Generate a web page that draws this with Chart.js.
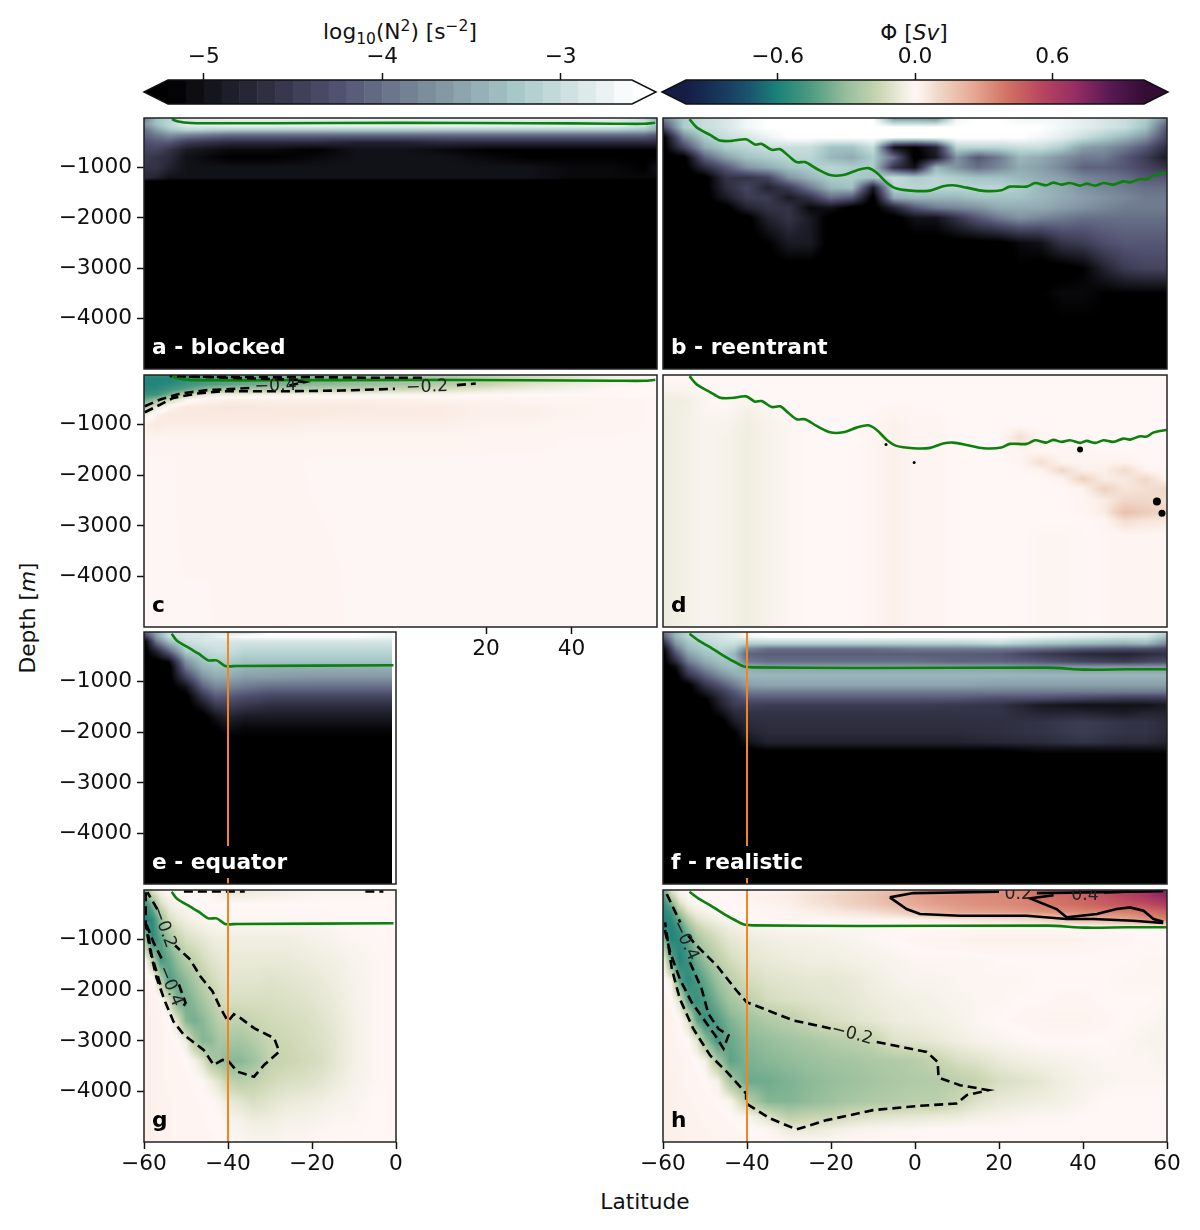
<!DOCTYPE html>
<html>
<head>
<meta charset="utf-8">
<title>Stratification and overturning</title>
<script src="https://cdn.jsdelivr.net/npm/chart.js@4"></script>
<style>
  html, body { margin: 0; background: #fff; }
  #page { position: relative; width: 1200px; height: 1230px; overflow: hidden; font-family: "DejaVu Sans", sans-serif; color: #111; }
  #page canvas { position: absolute; }
  .note { position: absolute; font-size: 21.7px; line-height: 24px; white-space: nowrap; transform: translate(-50%, -50%); }
  .note sub, .note sup { font-size: 15.5px; line-height: 0; }
</style>
</head>
<body>
<div id="page">
  <div class="note" style="left:400px;top:32px">log<sub>10</sub>(N<sup>2</sup>) [s<sup>−2</sup>]</div>
  <div class="note" style="left:914px;top:33px">Φ [<i>Sv</i>]</div>
  <div class="note" style="left:28px;top:618px;transform:translate(-50%,-50%) rotate(-90deg)">Depth [<i>m</i>]</div>
  <div class="note" style="left:645px;top:1202px">Latitude</div>
</div>
<script>
// Axis ticks
const depthTicks = [-1000, -2000, -3000, -4000];
const fullLatTicks = [-60, -40, -20, 0, 20, 40, 60];
const halfLatTicks = [-60, -40, -20, 0];
const cLatTicks = [20, 40];
const n2Ticks = [-5, -4, -3];
const phiTicks = [-0.6, 0, 0.6];

// Colorbar levels
const n2Levels = [-5.2, -5.1, -5.0, -4.9, -4.8, -4.7, -4.6, -4.5, -4.4, -4.3, -4.2, -4.1, -4.0, -3.9, -3.8, -3.7, -3.6, -3.5, -3.4, -3.3, -3.2, -3.1, -3.0, -2.9, -2.8, -2.7, -2.6];

// Pycnocline depth per configuration
const blockedLineLat = [-53.5, -52, -49, -45, -30, 0, 30, 50, 57, 59.6];
const blockedLineDepth = [-37, -85, -115, -120, -120, -112, -118, -128, -130, -110];
const reentrantLineLat = [-53.7, -52, -48.8, -46.4, -43.65, -40.2, -38.1, -36.5, -34.1, -32.1, -30.2, -28.2, -26.2, -23.4, -20.2, -17.1, -13.9, -11.1, -9.1, -6.7, -4.4, -0.4, 3.6, 6.7, 9.1, 12.3, 16.3, 20.6, 22.6, 26.6, 28.6, 31.3, 32.9, 34.9, 36.9, 39.3, 40.9, 42.9, 44.9, 47.2, 49.6, 51.2, 53.6, 55.2, 56.7, 58.3, 59.9];
const reentrantLineDepth = [-37, -201, -352, -464, -470, -438, -543, -530, -648, -635, -760, -891, -891, -1023, -1148, -1148, -1056, -1010, -1102, -1299, -1417, -1463, -1457, -1371, -1352, -1398, -1463, -1450, -1378, -1378, -1306, -1352, -1299, -1338, -1306, -1358, -1319, -1358, -1306, -1338, -1273, -1293, -1227, -1233, -1154, -1122, -1102];
const equatorLineLat = [-53.4, -52.2, -49, -47, -44.7, -42.7, -40.7, -37.9, -0.6];
const equatorLineDepth = [-50, -181, -346, -444, -576, -576, -687, -687, -674];
const realisticLineLat = [-53.7, -51.2, -48.8, -46.4, -44.4, -42.9, -40.9, -38.5, -13.1, 31.4, 40.9, 50.4, 59.9];
const realisticLineDepth = [-50, -201, -313, -444, -543, -609, -694, -714, -727, -720, -760, -753, -753];
const orangeLat = [-40, -40];
const orangeDepth = [0, -5000];

// Panel a, log10 N2
const aLats = [-60, -57, -54, -50, -40, -30, -20, -10, 0, 10, 20, 30, 40, 50, 57, 60];
const aDepths = [-30, -80, -130, -180, -250, -350, -500, -650, -800, -1000, -1200, -1290, -5000];
const aRows = [
  [-3.9, -3.3, -3.1, -2.8, -2.7, -2.7, -2.7, -2.7, -2.7, -2.7, -2.7, -2.7, -2.7, -2.7, -3.0, -3.5],
  [-3.8, -3.3, -3.1, -2.9, -2.9, -2.9, -2.9, -2.9, -2.9, -2.9, -2.9, -2.9, -2.9, -2.9, -3.0, -3.3],
  [-3.7, -3.3, -3.1, -2.8, -2.7, -2.7, -2.7, -2.7, -2.7, -2.7, -2.7, -2.7, -2.7, -2.7, -2.8, -3.2],
  [-3.8, -3.4, -3.1, -2.9, -2.8, -2.8, -2.8, -2.8, -2.8, -2.8, -2.8, -2.8, -2.8, -2.8, -3.0, -3.4],
  [-4.0, -3.6, -3.3, -3.1, -3.2, -3.2, -3.2, -3.2, -3.2, -3.2, -3.2, -3.2, -3.2, -3.2, -3.3, -3.5],
  [-4.1, -3.9, -3.7, -3.8, -4.0, -4.0, -4.0, -4.0, -4.0, -4.0, -4.0, -4.0, -4.0, -4.0, -4.0, -4.2],
  [-4.3, -4.2, -4.2, -4.5, -4.7, -4.7, -4.7, -4.8, -4.8, -4.7, -4.7, -4.7, -4.7, -4.7, -4.7, -4.7],
  [-4.4, -4.4, -4.6, -4.9, -5.1, -5.1, -5.2, -5.0, -5.0, -5.1, -5.2, -5.2, -5.2, -5.2, -5.2, -5.2],
  [-4.5, -4.6, -4.7, -5.0, -5.2, -5.2, -5.1, -5.0, -5.0, -5.0, -5.1, -5.2, -5.2, -5.2, -5.2, -5.2],
  [-4.6, -4.6, -4.8, -5.0, -5.0, -5.0, -5.0, -5.0, -5.0, -5.0, -5.0, -5.0, -5.1, -5.1, -5.2, -5.0],
  [-4.7, -4.8, -5.0, -5.0, -5.0, -5.0, -5.0, -5.0, -5.0, -5.0, -5.0, -5.0, -5.1, -5.1, -5.1, -5.1],
  [-5.3, -5.3, -5.3, -5.3, -5.3, -5.3, -5.3, -5.3, -5.3, -5.3, -5.3, -5.3, -5.3, -5.3, -5.3, -5.3],
  [-5.3, -5.3, -5.3, -5.3, -5.3, -5.3, -5.3, -5.3, -5.3, -5.3, -5.3, -5.3, -5.3, -5.3, -5.3, -5.3]
];

// Panel b, log10 N2
const bLats = [-60, -55, -50, -45, -40, -35, -30, -25, -20, -15, -10, -5, 0, 5, 10, 15, 20, 25, 30, 35, 40, 45, 50, 55, 60];
const bDepths = [-30, -200, -400, -600, -800, -1000, -1200, -1400, -1600, -1800, -2000, -2500, -3000, -3500, -4000, -5000];
const bRows = [
  [-3.9, -3.2, -3.0, -2.9, -2.7, -2.6, -2.6, -2.6, -2.6, -2.6, -2.6, -3.6, -3.6, -3.7, -2.7, -2.6, -2.6, -2.7, -2.7, -2.7, -2.8, -2.9, -3.0, -3.2, -3.8],
  [-4.4, -3.2, -3.0, -2.9, -2.7, -2.6, -2.6, -2.6, -2.6, -2.6, -2.6, -2.6, -2.6, -2.6, -2.6, -2.6, -2.6, -2.6, -2.6, -2.7, -2.8, -2.9, -3.0, -3.3, -4.2],
  [-5.3, -3.8, -3.2, -3.0, -2.9, -2.75, -2.6, -2.6, -2.6, -2.6, -2.6, -2.6, -2.6, -2.6, -2.6, -2.6, -2.6, -2.6, -2.7, -2.8, -3.0, -3.2, -3.4, -3.7, -4.4],
  [-5.3, -4.4, -3.5, -3.2, -3.1, -3.0, -3.0, -3.0, -3.3, -3.3, -3.0, -5.0, -5.2, -4.8, -3.1, -3.1, -3.1, -3.0, -3.0, -3.2, -3.6, -3.7, -3.9, -4.2, -4.7],
  [-5.3, -5.3, -4.1, -3.6, -3.3, -3.2, -3.1, -3.1, -3.4, -3.5, -3.2, -4.0, -5.3, -4.9, -3.7, -4.2, -3.9, -3.4, -3.5, -3.7, -3.9, -3.9, -4.2, -4.5, -4.9],
  [-5.3, -5.3, -4.7, -4.2, -3.7, -3.5, -3.3, -3.2, -3.1, -3.2, -3.2, -4.6, -5.0, -3.4, -3.7, -4.0, -3.8, -3.5, -3.6, -3.8, -4.1, -4.1, -4.2, -4.4, -4.6],
  [-5.3, -5.3, -5.3, -4.6, -4.6, -4.4, -3.7, -3.4, -3.2, -3.2, -3.3, -3.0, -3.2, -3.1, -3.2, -3.3, -3.3, -3.4, -3.5, -3.6, -3.8, -3.9, -4.0, -4.2, -4.2],
  [-5.3, -5.3, -5.3, -4.7, -4.4, -4.8, -4.5, -3.9, -3.4, -3.3, -4.9, -3.1, -3.1, -3.1, -3.1, -3.1, -3.1, -3.2, -3.4, -3.5, -3.7, -3.8, -3.9, -4.0, -4.0],
  [-5.3, -5.3, -5.3, -4.9, -4.5, -4.5, -4.9, -4.6, -4.0, -4.2, -5.3, -3.5, -3.4, -3.4, -3.4, -3.3, -3.3, -3.3, -3.4, -3.5, -3.6, -3.7, -3.8, -3.9, -3.9],
  [-5.3, -5.3, -5.3, -5.3, -4.8, -4.6, -4.6, -5.1, -5.0, -5.3, -5.3, -4.8, -4.2, -3.9, -3.8, -3.7, -3.5, -3.5, -3.5, -3.6, -3.7, -3.8, -3.9, -3.9, -3.9],
  [-5.3, -5.3, -5.3, -5.3, -5.3, -4.8, -4.6, -4.9, -5.3, -5.3, -5.3, -5.3, -5.0, -5.0, -4.6, -4.2, -3.9, -3.7, -3.8, -3.9, -4.0, -4.0, -4.0, -4.0, -4.0],
  [-5.3, -5.3, -5.3, -5.3, -5.3, -5.2, -4.9, -4.9, -5.3, -5.3, -5.3, -5.3, -5.3, -5.3, -5.3, -5.3, -5.3, -5.1, -5.0, -4.6, -4.5, -4.3, -4.2, -4.2, -4.2],
  [-5.3, -5.3, -5.3, -5.3, -5.3, -5.3, -5.3, -5.3, -5.3, -5.3, -5.3, -5.3, -5.3, -5.3, -5.3, -5.3, -5.3, -5.2, -5.3, -5.3, -5.2, -4.8, -4.5, -4.4, -4.4],
  [-5.3, -5.3, -5.3, -5.3, -5.3, -5.3, -5.3, -5.3, -5.3, -5.3, -5.3, -5.3, -5.3, -5.3, -5.3, -5.3, -5.3, -5.3, -5.2, -5.1, -5.1, -5.2, -5.2, -5.2, -5.2],
  [-5.3, -5.3, -5.3, -5.3, -5.3, -5.3, -5.3, -5.3, -5.3, -5.3, -5.3, -5.3, -5.3, -5.3, -5.3, -5.3, -5.3, -5.3, -5.3, -5.2, -5.2, -5.2, -5.3, -5.3, -5.3],
  [-5.3, -5.3, -5.3, -5.3, -5.3, -5.3, -5.3, -5.3, -5.3, -5.3, -5.3, -5.3, -5.3, -5.3, -5.3, -5.3, -5.3, -5.3, -5.3, -5.3, -5.3, -5.3, -5.3, -5.3, -5.3]
];

// Panel c, overturning
const cLats = [-60, -57, -54, -50, -45, -40, -30, -20, -10, 0, 10, 20, 30, 40, 50, 60];
const cDepths = [-30, -100, -200, -300, -400, -500, -650, -800, -1000, -1300, -1700, -5000];
const cRows = [
  [-.55, -.55, -.55, -.5, -.4, -.38, -.35, -.33, -.3, -.26, -.22, -.18, -.12, -.08, -.03, -.01],
  [-.58, -.58, -.58, -.55, -.48, -.42, -.38, -.35, -.32, -.28, -.25, -.2, -.15, -.1, -.04, -.01],
  [-.58, -.58, -.55, -.5, -.45, -.42, -.36, -.33, -.3, -.26, -.22, -.17, -.1, -.06, -.02, 0],
  [-.56, -.55, -.5, -.42, -.3, -.25, -.22, -.2, -.18, -.15, -.12, -.08, -.05, -.03, 0, 0],
  [-.52, -.5, -.38, -.17, -.07, -.05, -.04, -.03, -.03, -.02, -.02, -.01, 0, 0, 0, 0],
  [-.42, -.3, -.15, -.02, .02, .03, .03, .03, .03, .03, .02, .02, .01, .01, .01, .005],
  [-.22, -.08, .02, .05, .05, .06, .05, .05, .05, .04, .04, .03, .03, .02, .01, .005],
  [-.05, .03, .05, .05, .05, .05, .05, .05, .04, .04, .04, .03, .03, .02, .01, .005],
  [.03, .05, .04, .04, .04, .04, .04, .03, .03, .03, .03, .02, .02, .01, .01, .005],
  [.015, .015, .015, .015, .015, .015, .015, .015, .015, .015, .015, .01, .01, .005, .005, .005],
  [.005, .005, .005, .01, .01, .01, .01, .005, .005, .005, .005, .005, .005, .005, .005, .005],
  [.005, .005, .005, .005, .005, .01, .01, .01, .005, .005, .005, .005, .005, .005, .005, .005]
];
const cOuterLat = [-59.8, -56.2, -53.1, -47.6, -41.3, -34.2, -24.8, -13.8, -1.3, null, 13.2, 17.6, null, 5, -6, -21.7, -50.7];
const cOuterDepth = [-752, -600, -467, -381, -335, -335, -335, -322, -289, null, -216, -183, null, -70, -70, -57, -50];
const cInnerLat = [-59.8, -56.2, -51.5, -45.2, -34.2, null, -26, -22.5, -24, null, -24, -54];
const cInnerDepth = [-633, -500, -381, -315, -268, null, -222, -156, -136, null, -110, -35];
const cLabelText = ['−0.4', '−0.2'];
const cLabelLat = [-29.2, 6.2];
const cLabelDepth = [-236, -256];

// Panel d, overturning
const dLats = [-60, -55, -50, -45, -40, -35, -30, -25, -20, -15, -10, -5, 0, 5, 10, 15, 20, 25, 30, 35, 40, 45, 50, 55, 60];
const dDepths = [-30, -300, -500, -1000, -1250, -1500, -1750, -1900, -2075, -2270, -2500, -2730, -2900, -3200, -5000];
const dRows = [
  [0, 0, 0, 0, 0, 0, 0, 0, 0, 0, 0, 0, 0, 0, 0, 0, 0, 0, 0, 0, 0, 0, 0, 0, 0],
  [-.02, -.02, 0, 0, 0, 0, 0, 0, 0, 0, 0, 0, 0, 0, 0, 0, 0, 0, 0, 0, 0, 0, 0, 0, 0],
  [-.05, -.05, -.01, 0, -.02, 0, 0, 0, 0, 0, 0, 0, 0, 0, 0, 0, 0, 0, 0, 0, 0, 0, 0, 0, 0],
  [-.06, -.04, -.02, -.02, -.05, -.03, -.01, 0, 0, 0, .01, .03, .01, .01, 0, 0, 0, 0, 0, 0, 0, 0, 0, 0, 0],
  [-.06, -.04, -.02, -.03, -.05, -.03, -.01, 0, 0, 0, .01, .03, .01, .01, 0, 0, 0, .08, .01, 0, 0, 0, 0, 0, 0],
  [-.06, -.04, -.02, -.03, -.05, -.03, -.01, 0, 0, 0, .01, .03, .01, .01, 0, 0, 0, .02, .01, .01, .01, 0, 0, 0, 0],
  [-.06, -.04, -.02, -.03, -.05, -.03, -.01, 0, 0, 0, .01, .03, .01, .01, 0, 0, 0, .01, .08, .02, .02, .02, .03, 0, 0],
  [-.06, -.04, -.02, -.03, -.05, -.03, -.01, 0, 0, 0, .01, .03, .01, .01, 0, 0, 0, 0, .02, .1, .03, .03, .09, .02, 0],
  [-.06, -.04, -.02, -.03, -.05, -.03, -.01, 0, 0, 0, .01, .03, .01, .01, 0, 0, 0, 0, 0, .02, .12, .04, .05, .1, .02],
  [-.06, -.04, -.02, -.03, -.05, -.03, -.01, 0, 0, 0, .01, .03, .01, .01, 0, 0, 0, 0, 0, 0, .02, .12, .06, .08, .1],
  [-.06, -.04, -.02, -.03, -.05, -.03, -.01, 0, 0, 0, .01, .03, .01, .01, 0, 0, 0, 0, 0, 0, .01, .04, .1, .1, .08],
  [-.06, -.04, -.02, -.03, -.05, -.03, -.01, 0, 0, 0, .01, .03, .01, .01, 0, 0, 0, 0, 0, 0, .01, .04, .18, .14, .1],
  [-.06, -.04, -.02, -.03, -.05, -.03, -.01, 0, 0, 0, .01, .03, .01, .01, 0, 0, 0, 0, 0, 0, 0, .01, .08, .06, .05],
  [-.06, -.04, -.02, -.03, -.05, -.03, -.01, 0, 0, 0, .01, .03, .01, .01, 0, 0, 0, 0, -.01, -.01, -.005, .005, .01, .01, .01],
  [-.06, -.04, -.02, -.03, -.05, -.03, -.01, 0, 0, 0, .01, .03, .01, .01, 0, 0, 0, 0, -.01, -.01, -.005, .005, .01, .01, .01]
];
const dSpotLat = [-6.9, -0.2, 39.3, 57.6, 58.8];
const dSpotDepth = [-1391, -1746, -1490, -2515, -2752];

// Panel e, log10 N2
const eLats = [-60, -57, -54, -50, -46, -43, -40, -36, -30, -20, -10, -1];
const eDepths = [-30, -100, -200, -400, -600, -700, -900, -1100, -1300, -1500, -1700, -1900, -2100, -2300, -5000];
const eRows = [
  [-4.2, -3.5, -3.0, -2.9, -2.9, -2.8, -2.9, -2.9, -2.6, -2.6, -2.6, -2.7],
  [-4.6, -3.6, -3.0, -2.9, -2.9, -2.8, -2.7, -2.6, -2.6, -2.6, -2.6, -2.7],
  [-5.3, -3.9, -3.3, -3.0, -2.9, -2.9, -2.9, -2.9, -2.9, -2.9, -2.9, -2.9],
  [-5.3, -4.8, -4.1, -3.2, -3.1, -3.0, -3.0, -3.1, -3.1, -3.1, -3.1, -3.1],
  [-5.3, -5.3, -5.1, -3.7, -3.3, -3.2, -3.2, -3.3, -3.3, -3.3, -3.3, -3.3],
  [-5.3, -5.3, -5.3, -3.9, -3.4, -3.3, -3.3, -3.4, -3.45, -3.45, -3.45, -3.45],
  [-5.3, -5.3, -5.3, -4.4, -3.7, -3.5, -3.5, -3.6, -3.6, -3.65, -3.65, -3.65],
  [-5.3, -5.3, -5.3, -5.0, -4.1, -3.8, -3.8, -3.9, -4.0, -4.0, -4.0, -4.0],
  [-5.3, -5.3, -5.3, -5.3, -4.6, -4.2, -4.2, -4.3, -4.4, -4.4, -4.4, -4.4],
  [-5.3, -5.3, -5.3, -5.3, -5.0, -4.6, -4.5, -4.6, -4.7, -4.7, -4.7, -4.7],
  [-5.3, -5.3, -5.3, -5.3, -5.3, -5.0, -4.8, -4.9, -4.9, -4.9, -4.9, -4.9],
  [-5.3, -5.3, -5.3, -5.3, -5.3, -5.2, -5.0, -5.1, -5.1, -5.1, -5.1, -5.1],
  [-5.3, -5.3, -5.3, -5.3, -5.3, -5.3, -5.2, -5.2, -5.2, -5.2, -5.2, -5.2],
  [-5.3, -5.3, -5.3, -5.3, -5.3, -5.3, -5.3, -5.3, -5.3, -5.3, -5.3, -5.3],
  [-5.3, -5.3, -5.3, -5.3, -5.3, -5.3, -5.3, -5.3, -5.3, -5.3, -5.3, -5.3]
];

// Panel f, log10 N2
const fLats = [-60, -57, -54, -50, -46, -43, -40, -35, -30, -20, -10, 0, 10, 20, 30, 40, 50, 55, 60];
const fDepths = [-30, -100, -250, -350, -450, -600, -700, -870, -1070, -1200, -1330, -1460, -1600, -1800, -2000, -2200, -2320, -2420, -5000];
const fRows = [
  [-4.0, -3.4, -3.1, -3.0, -2.9, -2.8, -2.7, -2.6, -2.6, -2.6, -2.6, -2.6, -2.6, -2.6, -2.65, -2.7, -2.8, -2.8, -3.1],
  [-4.2, -3.4, -3.1, -3.0, -2.9, -2.8, -2.7, -2.6, -2.6, -2.6, -2.6, -2.6, -2.6, -2.6, -2.7, -2.8, -2.9, -2.9, -3.3],
  [-4.8, -3.7, -3.3, -3.1, -3.0, -3.0, -3.2, -3.2, -3.2, -3.2, -3.2, -3.2, -3.2, -3.1, -3.3, -3.4, -3.5, -3.4, -3.8],
  [-5.2, -4.0, -3.4, -3.2, -3.1, -3.2, -3.8, -4.0, -4.0, -4.0, -4.0, -3.9, -3.9, -3.9, -4.0, -4.2, -4.3, -4.3, -4.4],
  [-5.3, -4.3, -3.6, -3.3, -3.2, -3.4, -4.1, -4.15, -4.15, -4.15, -4.15, -4.15, -4.15, -4.2, -4.5, -4.7, -4.8, -4.7, -4.6],
  [-5.3, -4.7, -3.9, -3.5, -3.3, -3.3, -3.9, -4.0, -4.0, -4.0, -4.0, -4.0, -4.1, -4.1, -4.2, -4.4, -4.5, -4.4, -4.3],
  [-5.3, -5.1, -4.2, -3.7, -3.4, -3.3, -3.5, -3.6, -3.6, -3.6, -3.6, -3.6, -3.6, -3.6, -3.7, -3.7, -3.7, -3.7, -3.7],
  [-5.3, -5.3, -4.6, -4.1, -3.7, -3.5, -3.4, -3.4, -3.4, -3.4, -3.4, -3.4, -3.4, -3.4, -3.4, -3.4, -3.4, -3.4, -3.4],
  [-5.3, -5.3, -5.3, -4.6, -4.2, -3.9, -3.6, -3.55, -3.55, -3.55, -3.55, -3.55, -3.55, -3.6, -3.6, -3.6, -3.6, -3.6, -3.6],
  [-5.3, -5.3, -5.3, -4.9, -4.5, -4.2, -3.9, -3.9, -3.9, -3.9, -3.9, -3.9, -3.9, -3.9, -3.9, -3.9, -3.9, -3.9, -3.9],
  [-5.3, -5.3, -5.3, -5.2, -4.7, -4.4, -4.2, -4.2, -4.2, -4.2, -4.2, -4.2, -4.2, -4.3, -4.3, -4.4, -4.5, -4.5, -4.5],
  [-5.3, -5.3, -5.3, -5.3, -4.8, -4.5, -4.45, -4.5, -4.5, -4.5, -4.5, -4.5, -4.55, -4.6, -4.9, -5.0, -5.0, -5.0, -4.9],
  [-5.3, -5.3, -5.3, -5.3, -5.0, -4.7, -4.6, -4.6, -4.6, -4.6, -4.6, -4.6, -4.6, -4.6, -4.8, -4.8, -4.9, -4.8, -4.8],
  [-5.3, -5.3, -5.3, -5.3, -5.3, -4.9, -4.7, -4.65, -4.65, -4.65, -4.65, -4.65, -4.65, -4.65, -4.6, -4.5, -4.6, -4.6, -4.7],
  [-5.3, -5.3, -5.3, -5.3, -5.3, -5.2, -4.8, -4.7, -4.7, -4.7, -4.7, -4.7, -4.7, -4.65, -4.6, -4.5, -4.6, -4.6, -4.7],
  [-5.3, -5.3, -5.3, -5.3, -5.3, -5.3, -5.0, -4.8, -4.8, -4.8, -4.8, -4.8, -4.8, -4.75, -4.7, -4.6, -4.7, -4.7, -4.8],
  [-5.3, -5.3, -5.3, -5.3, -5.3, -5.3, -5.2, -5.1, -5.1, -5.1, -5.1, -5.1, -5.1, -5.1, -5.0, -5.0, -5.0, -5.0, -5.0],
  [-5.3, -5.3, -5.3, -5.3, -5.3, -5.3, -5.3, -5.3, -5.3, -5.3, -5.3, -5.3, -5.3, -5.3, -5.2, -5.2, -5.2, -5.2, -5.2],
  [-5.3, -5.3, -5.3, -5.3, -5.3, -5.3, -5.3, -5.3, -5.3, -5.3, -5.3, -5.3, -5.3, -5.3, -5.3, -5.3, -5.3, -5.3, -5.3]
];

// Panel g, overturning
const gLats = [-60, -58, -56, -54, -52, -50, -48, -46, -44, -42, -40, -37, -34, -30, -26, -22, -18, -14, -10, -5, 0];
const gDepths = [-30, -300, -600, -1000, -1400, -1800, -2200, -2600, -3000, -3400, -3800, -4200, -4600, -5000];
const gRows = [
  [-.4, -.1, -.02, 0, 0, 0, 0, 0, -.02, -.05, -.08, -.08, -.06, -.05, -.04, -.03, -.02, -.02, -.02, -.01, -.01],
  [-.55, -.35, -.12, -.05, -.02, -.01, 0, 0, 0, 0, 0, 0, 0, 0, 0, 0, 0, 0, 0, 0, 0],
  [-.6, -.55, -.3, -.12, -.07, -.05, -.03, -.02, -.01, -.01, -.01, -.01, -.01, -.01, -.01, -.01, -.01, -.005, 0, 0, 0],
  [-.2, -.55, -.42, -.3, -.18, -.12, -.1, -.08, -.06, -.05, -.05, -.05, -.05, -.05, -.05, -.04, -.03, -.02, -.01, -.005, 0],
  [.02, -.2, -.48, -.4, -.3, -.22, -.18, -.13, -.1, -.08, -.07, -.07, -.07, -.07, -.07, -.06, -.05, -.04, -.02, -.01, 0],
  [.02, .02, -.2, -.45, -.38, -.32, -.25, -.19, -.14, -.11, -.09, -.09, -.09, -.1, -.09, -.08, -.07, -.05, -.03, -.01, 0],
  [.03, .02, .01, -.12, -.38, -.38, -.32, -.25, -.2, -.14, -.12, -.12, -.12, -.12, -.11, -.1, -.08, -.06, -.03, -.01, 0],
  [.03, .03, .02, 0, -.1, -.34, -.37, -.33, -.26, -.2, -.18, -.18, -.16, -.14, -.13, -.12, -.1, -.07, -.04, -.01, 0],
  [.03, .03, .02, .01, 0, -.05, -.24, -.34, -.32, -.25, -.25, -.26, -.22, -.16, -.15, -.13, -.11, -.08, -.04, -.01, 0],
  [.03, .03, .02, .01, .01, 0, -.03, -.1, -.23, -.28, -.33, -.33, -.28, -.18, -.16, -.14, -.12, -.08, -.04, -.01, 0],
  [.03, .03, .02, .01, .01, .01, 0, -.01, -.05, -.1, -.18, -.2, -.18, -.14, -.12, -.11, -.09, -.06, -.03, -.01, 0],
  [.03, .03, .02, .02, .01, .01, .01, 0, 0, -.02, -.07, -.09, -.12, -.09, -.07, -.06, -.05, -.03, -.02, 0, 0],
  [.03, .03, .02, .02, .01, .01, .01, .01, 0, 0, -.02, -.03, -.05, -.05, -.03, -.03, -.02, -.01, -.01, 0, 0],
  [.03, .03, .02, .02, .01, .01, .01, .01, .01, 0, 0, -.01, -.02, -.02, -.01, -.01, 0, 0, 0, 0, 0]
];
const gLoopLat = [-59.6, -59.6, -58.5, -57, -55, -53, -50.5, -45.8, -43.4, -41.3, -39.8, -37.8, -33.8, -31.4, -27.8, -29, -33.8, -37, -38.6, -40, -41.8, -43.7, -46.6, -49, -52.6, null, -56.8, -59.2];
const gLoopDepth = [-60, -700, -1226, -1755, -2218, -2615, -2880, -3178, -3476, -3377, -3410, -3608, -3708, -3476, -3212, -2947, -2748, -2549, -2470, -2615, -2350, -2019, -1722, -1391, -1113, null, -400, -60];
const gCoreLat = [-59.4, -57.7, -55.7, null, -51.7, -50.1, -51, null, -56.1, -58.2, -59.4];
const gCoreDepth = [-700, -1056, -1387, null, -1884, -2248, -2360, null, -1887, -1300, -700];
const gTopLat = [-50.5, -36, null, -7.3, -3];
const gTopDepth = [-45, -45, null, -45, -45];
const gLabelText = ['−0.2', '−0.4'];
const gLabelLat = [-55.3, -53.8];
const gLabelDepth = [-758, -1916];

// Panel h, overturning
const hLats = [-60, -58, -56, -54, -52, -50, -47, -44, -40, -35, -30, -25, -20, -15, -10, -5, 0, 5, 10, 15, 20, 25, 30, 35, 40, 45, 50, 55, 60];
const hDepths = [-30, -150, -300, -450, -600, -750, -1000, -1400, -1800, -2200, -2600, -3000, -3400, -3800, -4200, -4500, -4750, -5000];
const hRows = [
  [-.45, -.1, -.02, 0, 0, 0, 0, 0, .02, .02, .03, .06, .08, .12, .15, .2, .24, .28, .3, .32, .33, .35, .42, .45, .48, .52, .58, .65, .78],
  [-.5, -.2, -.05, -.01, 0, 0, 0, 0, .02, .03, .04, .07, .1, .13, .17, .22, .27, .3, .32, .33, .34, .35, .4, .42, .45, .5, .55, .62, .72],
  [-.55, -.38, -.12, -.04, -.01, 0, 0, 0, .01, .02, .03, .06, .08, .12, .15, .2, .25, .28, .3, .32, .33, .35, .38, .4, .43, .47, .5, .52, .6],
  [-.58, -.5, -.25, -.1, -.05, -.03, -.01, 0, 0, .01, .02, .03, .05, .06, .08, .11, .17, .22, .26, .27, .28, .3, .32, .33, .35, .36, .36, .4, .45],
  [-.6, -.55, -.38, -.2, -.1, -.07, -.04, -.01, 0, 0, .01, .01, .01, .02, .02, .02, .03, .04, .05, .06, .07, .08, .1, .15, .2, .22, .25, .3, .35],
  [-.55, -.58, -.48, -.3, -.18, -.12, -.08, -.05, -.03, -.02, -.01, -.01, -.01, -.01, -.01, -.01, 0, 0, 0, 0, 0, 0, 0, 0, 0, 0, 0, 0, .01],
  [-.3, -.58, -.55, -.42, -.28, -.2, -.13, -.08, -.06, -.05, -.04, -.04, -.03, -.02, -.01, 0, .01, .02, .02, .03, .03, .03, .03, .03, .02, .01, .01, 0, 0],
  [0, -.4, -.58, -.5, -.38, -.3, -.2, -.13, -.09, -.07, -.06, -.05, -.05, -.04, -.03, -.02, -.01, -.01, -.01, -.01, 0, 0, 0, 0, 0, 0, 0, -.01, -.01],
  [.01, -.05, -.45, -.55, -.48, -.4, -.28, -.2, -.13, -.1, -.09, -.08, -.08, -.07, -.05, -.03, -.02, -.02, -.01, -.01, -.01, -.01, 0, 0, 0, 0, -.01, -.01, -.01],
  [.02, .01, -.1, -.45, -.52, -.47, -.36, -.26, -.2, -.13, -.11, -.1, -.09, -.08, -.06, -.05, -.04, -.03, -.02, -.01, -.01, 0, 0, .01, .01, 0, 0, 0, -.01],
  [.02, .02, 0, -.1, -.4, -.52, -.45, -.35, -.28, -.23, -.2, -.15, -.12, -.1, -.08, -.06, -.05, -.04, -.03, -.01, 0, .01, .02, .02, .02, .01, 0, -.01, -.02],
  [.02, .02, .01, 0, -.08, -.3, -.48, -.4, -.33, -.3, -.27, -.25, -.22, -.2, -.17, -.1, -.09, -.07, -.05, -.03, -.02, -.01, 0, 0, 0, 0, -.01, -.02, -.03],
  [.03, .02, .02, .01, 0, -.03, -.25, -.42, -.36, -.33, -.31, -.29, -.27, -.26, -.24, -.23, -.21, -.17, -.12, -.1, -.07, -.05, -.04, -.03, -.02, -.01, -.01, -.01, -.02],
  [.03, .03, .02, .01, .01, 0, -.03, -.25, -.39, -.38, -.35, -.32, -.3, -.28, -.26, -.24, -.23, -.22, -.2, -.17, -.12, -.1, -.08, -.05, -.03, -.02, -.01, -.01, -.01],
  [.03, .03, .02, .02, .01, .01, 0, -.02, -.2, -.34, -.34, -.31, -.28, -.25, -.23, -.22, -.2, -.2, -.16, -.1, -.07, -.06, -.05, -.04, -.02, 0, 0, 0, 0],
  [.03, .03, .02, .02, .02, .01, .01, 0, -.02, -.1, -.2, -.17, -.16, -.12, -.1, -.09, -.08, -.07, -.06, -.04, -.03, -.02, -.01, -.01, 0, 0, 0, 0, 0],
  [.03, .03, .03, .02, .02, .02, .01, .01, 0, -.01, -.07, -.07, -.05, -.03, -.02, -.01, -.01, 0, 0, 0, 0, 0, 0, 0, 0, 0, 0, 0, 0],
  [.03, .03, .03, .02, .02, .02, .02, .01, .01, 0, -.01, -.01, -.01, 0, 0, 0, 0, 0, 0, 0, 0, 0, 0, 0, 0, 0, 0, 0, 0]
];
const hOuterLat = [-59.1, -55.9, null, -54, -52.4, -47.2, -42.5, -40.1, -29, -19.8, null, -9.1, 2.8, 5.4, 5.6, 10.7, 17.5, 12.3, 9.9, 1.2, -10, -21, -28.2, -34.5, -40.2, -40.2, -44.8, -48.8, -52.8, -56, -57.9, -59.5];
const hOuterDepth = [-96, -655, null, -918, -1082, -1509, -2003, -2233, -2594, -2759, null, -3022, -3219, -3416, -3725, -3876, -3975, -4074, -4238, -4284, -4370, -4567, -4751, -4534, -4238, -4041, -3613, -3285, -2759, -2167, -1575, -655];
const hCoreLat = [-53.6, -50.8, -49.2, -46.8, -44.4, -45.6, -47.6, -53.2, -56, -58.3, -59.8];
const hCoreDepth = [-1444, -1970, -2463, -2759, -2890, -3153, -2890, -2233, -1772, -1246, -720];
const hWarmLat = [-6, -2, 1.2, 10.7, 26.6, 36.1, 42.5, 52, 59.1, null, 59.1, 29, null, 20, -0.4, -6];
const hWarmDepth = [-161, -392, -490, -523, -523, -589, -589, -622, -668, null, -40, -76, null, -50, -76, -161];
const hHotLat = [33, 27.4, 33.7, 36.1, 43.3, 48, 51.2, 54.4, 56.8, 59.1, null, 45, 51.2];
const hHotDepth = [-120, -181, -392, -556, -490, -392, -359, -425, -589, -641, null, -65, -43];
const hLabelText = ['−0.4', '−0.2', '0.2', '0.4'];
const hLabelLat = [-54.8, -15, 24.6, 40.5];
const hLabelDepth = [-1016, -2870, -95, -115];

// Colormaps, both continuous; the N2 colorbar steps through n2Levels
const boneStops = [[0, 0, 0, 0], [.365, 81, 81, 113], [.746, 166, 199, 199], [1, 255, 255, 255]];
const curlStops = [[-1, 21, 29, 68], [-.85, 24, 55, 92], [-.72, 27, 85, 110], [-.6, 27, 130, 122], [-.45, 80, 155, 130], [-.3, 150, 190, 155], [-.15, 205, 215, 180], [-.05, 240, 238, 225], [0, 255, 247, 246], [.03, 252, 240, 234], [.1, 240, 215, 200], [.25, 230, 170, 150], [.4, 210, 115, 100], [.55, 185, 70, 95], [.7, 150, 45, 100], [.85, 90, 25, 85], [1, 52, 13, 53]];

function ramp(stops, t) {
  if (t <= stops[0][0]) return stops[0].slice(1);
  for (let i = 1; i < stops.length; i++) {
    if (t <= stops[i][0]) {
      const a = stops[i - 1], b = stops[i];
      const f = (t - a[0]) / (b[0] - a[0]);
      return [a[1] + (b[1] - a[1]) * f, a[2] + (b[2] - a[2]) * f, a[3] + (b[3] - a[3]) * f];
    }
  }
  return stops[stops.length - 1].slice(1);
}

function n2Colour(v) {
  const low = n2Levels[0], high = n2Levels[n2Levels.length - 1];
  return ramp(boneStops, (v - low) / (high - low));
}

function phiColour(v) {
  return ramp(curlStops, v);
}

function bracket(grid, v) {
  // grid may run up or down, returns lower index and fraction
  const sign = grid[1] > grid[0] ? 1 : -1;
  let i = 0;
  while (i < grid.length - 2 && sign * v > sign * grid[i + 1]) i++;
  const f = (v - grid[i]) / (grid[i + 1] - grid[i]);
  return [i, Math.min(1, Math.max(0, f))];
}

// Paints the matrix behind the lines, every pixel looked up through the chart's scales
function heatLayer(lats, depths, rows, colour) {
  return {
    id: 'heatLayer',
    beforeDatasetsDraw(chart) {
      const area = chart.chartArea;
      const xs = chart.scales.x, ys = chart.scales.y;
      const w = Math.round(area.right - area.left), h = Math.round(area.bottom - area.top);
      const off = document.createElement('canvas');
      off.width = w;
      off.height = h;
      const octx = off.getContext('2d');
      const img = octx.createImageData(w, h);
      for (let py = 0; py < h; py++) {
        const [r, fy] = bracket(depths, ys.getValueForPixel(area.top + py + 0.5));
        for (let px = 0; px < w; px++) {
          const lat = xs.getValueForPixel(area.left + px + 0.5);
          if (lat > lats[lats.length - 1]) continue;
          const [c, fx] = bracket(lats, lat);
          const top = rows[r][c] * (1 - fx) + rows[r][c + 1] * fx;
          const bot = rows[r + 1][c] * (1 - fx) + rows[r + 1][c + 1] * fx;
          const rgb = colour(top * (1 - fy) + bot * fy);
          const k = (py * w + px) * 4;
          img.data[k] = rgb[0];
          img.data[k + 1] = rgb[1];
          img.data[k + 2] = rgb[2];
          img.data[k + 3] = 255;
        }
      }
      octx.putImageData(img, 0, 0);
      chart.ctx.drawImage(off, area.left, area.top);
    }
  };
}

// Frame, panel letter and contour labels on top
function overlay(panelLabel, labelColour, boxColour, labels) {
  return {
    id: 'overlay',
    afterDatasetsDraw(chart) {
      const ctx = chart.ctx, area = chart.chartArea;
      ctx.save();
      if (labels) {
        ctx.font = '17.3px "DejaVu Sans"';
        ctx.fillStyle = '#222';
        ctx.textAlign = 'center';
        ctx.textBaseline = 'middle';
        labels.text.forEach((t, i) => {
          ctx.save();
          ctx.beginPath();
          ctx.rect(area.left, area.top, area.right - area.left, area.bottom - area.top);
          ctx.clip();
          ctx.translate(chart.scales.x.getPixelForValue(labels.lat[i]), chart.scales.y.getPixelForValue(labels.depth[i]));
          ctx.rotate(labels.angle[i] * Math.PI / 180);
          ctx.fillText(t, 0, 0);
          ctx.restore();
        });
      }
      ctx.font = 'bold 21.7px "DejaVu Sans"';
      ctx.textAlign = 'left';
      ctx.textBaseline = 'alphabetic';
      if (boxColour) {
        ctx.fillStyle = boxColour;
        ctx.fillRect(area.left + 4, area.bottom - 38, ctx.measureText(panelLabel).width + 10, 32);
      }
      ctx.fillStyle = labelColour;
      ctx.fillText(panelLabel, area.left + 8, area.bottom - 15);
      ctx.strokeStyle = '#222';
      ctx.lineWidth = 1.5;
      ctx.strokeRect(area.left, area.top, area.right - area.left, area.bottom - area.top);
      ctx.restore();
    }
  };
}

function pts(lats, depths) {
  return lats.map((lat, i) => ({ x: lat, y: depths[i] }));
}

function lineSet(lats, depths, colour, dash, width, tension) {
  return {
    data: pts(lats, depths), showLine: true, pointRadius: 0, borderColor: colour,
    borderWidth: width || 2.6, borderDash: dash || [], tension: tension || 0, spanGaps: false
  };
}

function greenLine(lats, depths) {
  return lineSet(lats, depths, '#0b800b', null, 2.6, 0.3);
}

const tickGrid = { display: true, drawOnChartArea: false, drawTicks: true, tickLength: 7, tickWidth: 1.5, tickColor: '#111' };
const tickFont = { family: 'DejaVu Sans', size: 21.7 };
const page = document.getElementById('page');

function signed(v) {
  return (v < 0 ? '−' : '') + Math.abs(v);
}

function addCanvas(left, top, width, height) {
  const canvas = document.createElement('canvas');
  canvas.width = width;
  canvas.height = height;
  canvas.style.left = left + 'px';
  canvas.style.top = top + 'px';
  canvas.style.width = width + 'px';
  canvas.style.height = height + 'px';
  page.appendChild(canvas);
  return canvas;
}

function panel(rect, p) {
  const pad = { l: p.yTicks ? 90 : 30, r: 30, t: 4, b: p.xTicks ? 45 : 4 };
  const canvas = addCanvas(rect.x - pad.l, rect.y - pad.t, rect.w + pad.l + pad.r, rect.h + pad.t + pad.b);
  new Chart(canvas, {
    type: 'scatter',
    data: { datasets: p.datasets },
    plugins: [heatLayer(p.lats, p.depths, p.rows, p.colour), overlay(p.label, p.labelColour, p.box, p.labels)],
    options: {
      responsive: false,
      animation: false,
      devicePixelRatio: 1,
      events: [],
      layout: { padding: { left: p.yTicks ? 0 : pad.l, right: pad.r, top: pad.t, bottom: p.xTicks ? 0 : pad.b } },
      plugins: { legend: { display: false }, tooltip: { enabled: false } },
      scales: {
        x: {
          type: 'linear', min: p.xMin, max: p.xMax, display: !!p.xTicks,
          grid: tickGrid, border: { display: false },
          ticks: { font: tickFont, color: '#111', padding: 2, maxRotation: 0, autoSkip: false, callback: signed },
          afterBuildTicks: s => { s.ticks = (p.xTicks || []).map(v => ({ value: v })); },
          afterFit: s => { s.height = p.xTicks ? pad.b : 0; s.paddingLeft = 0; s.paddingRight = 0; }
        },
        y: {
          type: 'linear', min: -5000, max: -15, display: !!p.yTicks,
          grid: tickGrid, border: { display: false },
          ticks: { font: tickFont, color: '#111', padding: 5, autoSkip: false, callback: signed },
          afterBuildTicks: s => { s.ticks = (p.yTicks || []).map(v => ({ value: v })); },
          afterFit: s => { s.width = p.yTicks ? pad.l : 0; s.paddingTop = 0; s.paddingBottom = 0; }
        }
      }
    }
  });
}

// Colorbar with pointed ends, drawn through its own scale
function colorbar(body, min, max, ticks, fmt, colour, levels) {
  const canvas = addCanvas(body.x - 30, 0, body.w + 60, body.y + body.h + 6);
  new Chart(canvas, {
    type: 'scatter',
    data: { datasets: [] },
    plugins: [{
      id: 'barFill',
      beforeDatasetsDraw(chart) {
        const ctx = chart.ctx, a = chart.chartArea, xs = chart.scales.x;
        const mid = (a.top + a.bottom) / 2;
        const outline = () => {
          ctx.beginPath();
          ctx.moveTo(a.left - 24, mid);
          ctx.lineTo(a.left, a.top);
          ctx.lineTo(a.right, a.top);
          ctx.lineTo(a.right + 24, mid);
          ctx.lineTo(a.right, a.bottom);
          ctx.lineTo(a.left, a.bottom);
          ctx.closePath();
        };
        ctx.save();
        outline();
        ctx.clip();
        const css = c => `rgb(${c.map(Math.round).join(',')})`;
        ctx.fillStyle = css(colour(min - 1));
        ctx.fillRect(a.left - 24, a.top, 24, a.bottom - a.top);
        ctx.fillStyle = css(colour(max + 1));
        ctx.fillRect(a.right, a.top, 24, a.bottom - a.top);
        if (levels) {
          for (let i = 0; i < levels.length - 1; i++) {
            const x0 = xs.getPixelForValue(levels[i]), x1 = xs.getPixelForValue(levels[i + 1]);
            ctx.fillStyle = css(colour(levels[i] + 0.05));
            ctx.fillRect(x0, a.top, x1 - x0 + 0.5, a.bottom - a.top);
          }
        } else {
          for (let px = Math.round(a.left); px < a.right; px++) {
            ctx.fillStyle = css(colour(xs.getValueForPixel(px + 0.5)));
            ctx.fillRect(px, a.top, 1.5, a.bottom - a.top);
          }
        }
        ctx.restore();
        ctx.strokeStyle = '#111';
        ctx.lineWidth = 1.5;
        outline();
        ctx.stroke();
      }
    }],
    options: {
      responsive: false,
      animation: false,
      devicePixelRatio: 1,
      events: [],
      layout: { padding: { left: 30, right: 30, bottom: 6 } },
      plugins: { legend: { display: false }, tooltip: { enabled: false } },
      scales: {
        x: {
          type: 'linear', position: 'top', min: min, max: max,
          grid: tickGrid, border: { display: false },
          ticks: { font: tickFont, color: '#111', padding: 3, maxRotation: 0, autoSkip: false, callback: fmt },
          afterBuildTicks: s => { s.ticks = ticks.map(v => ({ value: v })); },
          afterFit: s => { s.height = body.y; s.paddingLeft = 0; s.paddingRight = 0; }
        },
        y: { display: false }
      }
    }
  });
}

const orange = '#f28522';
const dash = [9, 5];

colorbar({ x: 168, y: 80, w: 464, h: 24 }, -5.2, -2.6, n2Ticks, signed, n2Colour, n2Levels);
colorbar({ x: 686, y: 80, w: 458, h: 24 }, -1, 1, phiTicks, v => (v < 0 ? '−' : '') + Math.abs(v).toFixed(1), phiColour);

panel({ x: 144, y: 118, w: 513, h: 251 }, {
  xMin: -60, xMax: 60, yTicks: depthTicks, lats: aLats, depths: aDepths, rows: aRows, colour: n2Colour,
  label: 'a - blocked', labelColour: '#fff', box: '#000',
  datasets: [greenLine(blockedLineLat, blockedLineDepth)]
});
panel({ x: 663, y: 118, w: 504, h: 251 }, {
  xMin: -60, xMax: 60, lats: bLats, depths: bDepths, rows: bRows, colour: n2Colour,
  label: 'b - reentrant', labelColour: '#fff', box: '#000',
  datasets: [greenLine(reentrantLineLat, reentrantLineDepth)]
});
panel({ x: 144, y: 375, w: 513, h: 252 }, {
  xMin: -60, xMax: 60, xTicks: cLatTicks, yTicks: depthTicks, lats: cLats, depths: cDepths, rows: cRows, colour: phiColour,
  label: 'c', labelColour: '#000',
  labels: { text: cLabelText, lat: cLabelLat, depth: cLabelDepth, angle: [-2, -2] },
  datasets: [
    lineSet(cOuterLat, cOuterDepth, '#000', dash),
    lineSet(cInnerLat, cInnerDepth, '#000', dash),
    greenLine(blockedLineLat, blockedLineDepth)
  ]
});
panel({ x: 663, y: 375, w: 504, h: 252 }, {
  xMin: -60, xMax: 60, lats: dLats, depths: dDepths, rows: dRows, colour: phiColour,
  label: 'd', labelColour: '#000',
  datasets: [
    { data: pts(dSpotLat, dSpotDepth), showLine: false, backgroundColor: '#000', borderWidth: 0, pointRadius: [1.5, 1.5, 3, 4, 3.5] },
    greenLine(reentrantLineLat, reentrantLineDepth)
  ]
});
panel({ x: 144, y: 632, w: 252, h: 252 }, {
  xMin: -60, xMax: 0, yTicks: depthTicks, lats: eLats, depths: eDepths, rows: eRows, colour: n2Colour,
  label: 'e - equator', labelColour: '#fff', box: '#000',
  datasets: [lineSet(orangeLat, orangeDepth, orange, null, 2), greenLine(equatorLineLat, equatorLineDepth)]
});
panel({ x: 663, y: 632, w: 504, h: 252 }, {
  xMin: -60, xMax: 60, lats: fLats, depths: fDepths, rows: fRows, colour: n2Colour,
  label: 'f - realistic', labelColour: '#fff', box: '#000',
  datasets: [lineSet(orangeLat, orangeDepth, orange, null, 2), greenLine(realisticLineLat, realisticLineDepth)]
});
panel({ x: 144, y: 890, w: 252, h: 252 }, {
  xMin: -60, xMax: 0, xTicks: halfLatTicks, yTicks: depthTicks, lats: gLats, depths: gDepths, rows: gRows, colour: phiColour,
  label: 'g', labelColour: '#000',
  labels: { text: gLabelText, lat: gLabelLat, depth: gLabelDepth, angle: [70, 68] },
  datasets: [
    lineSet(orangeLat, orangeDepth, orange, null, 2),
    lineSet(gLoopLat, gLoopDepth, '#000', dash),
    lineSet(gCoreLat, gCoreDepth, '#000', dash),
    lineSet(gTopLat, gTopDepth, '#000', dash),
    greenLine(equatorLineLat, equatorLineDepth)
  ]
});
panel({ x: 663, y: 890, w: 504, h: 252 }, {
  xMin: -60, xMax: 60, xTicks: fullLatTicks, lats: hLats, depths: hDepths, rows: hRows, colour: phiColour,
  label: 'h', labelColour: '#000',
  labels: { text: hLabelText, lat: hLabelLat, depth: hLabelDepth, angle: [65, 15, 0, 0] },
  datasets: [
    lineSet(orangeLat, orangeDepth, orange, null, 2),
    lineSet(hOuterLat, hOuterDepth, '#000', dash),
    lineSet(hCoreLat, hCoreDepth, '#000', dash),
    lineSet(hWarmLat, hWarmDepth, '#000'),
    lineSet(hHotLat, hHotDepth, '#000'),
    greenLine(realisticLineLat, realisticLineDepth)
  ]
});
</script>
</body>
</html>
